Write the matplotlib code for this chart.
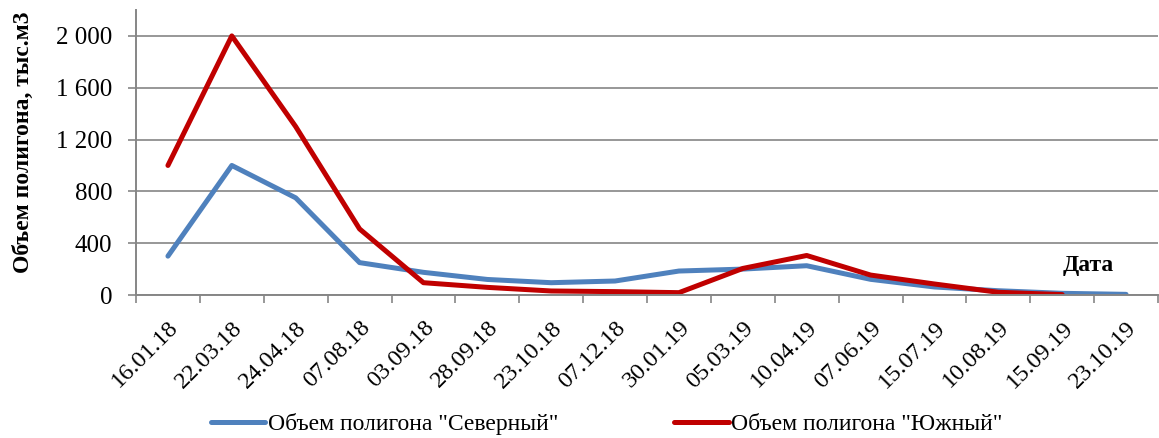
import matplotlib
matplotlib.use("Agg")
import matplotlib.pyplot as plt
from matplotlib.ticker import FuncFormatter, FixedLocator
import numpy as np

dates = ["16.01.18", "22.03.18", "24.04.18", "07.08.18", "03.09.18", "28.09.18",
         "23.10.18", "07.12.18", "30.01.19", "05.03.19", "10.04.19", "07.06.19",
         "15.07.19", "10.08.19", "15.09.19", "23.10.19"]
severny = [300, 1000, 750, 250, 175, 120, 95, 108, 185, 200, 226, 121, 62, 33, 13, 5]
yuzhny = [1000, 2000, 1300, 510, 95, 59, 31, 26, 18, 205, 305, 154, 85, 21, 3]

plt.rcParams["font.family"] = ["Liberation Serif", "DejaVu Serif"]

W, H = 1159, 438
fig = plt.figure(figsize=(W / 100, H / 100), dpi=100)
ax = fig.add_axes([136 / W, 1 - 295 / H, (1158 - 136) / W, 285 / H])

x_s = np.arange(len(severny))
x_y = np.arange(len(yuzhny))
ax.plot(x_s, severny, color="#4F81BD", lw=3.6, solid_capstyle="round",
        solid_joinstyle="round", label='Объем полигона "Северный"')
ax.plot(x_y, yuzhny, color="#C00000", lw=3.6, solid_capstyle="round",
        solid_joinstyle="round", label='Объем полигона "Южный"')

ax.set_xlim(-0.5, len(dates) - 0.5)
ax.set_ylim(0, 2200)

# y axis
ax.set_yticks(np.arange(0, 2001, 400))
ax.yaxis.set_major_formatter(FuncFormatter(lambda v, p: f"{int(v):,}".replace(",", " ")))
ax.tick_params(axis="y", labelsize=18, length=6, width=1.2, color="#868686", pad=11)
ax.grid(axis="y", color="#979797", lw=1.4)
ax.set_axisbelow(True)

# x axis: ticks on category boundaries, labels at centres
ax.xaxis.set_major_locator(FixedLocator(np.arange(-0.5, len(dates), 1.0)))
ax.xaxis.set_minor_locator(FixedLocator(np.arange(len(dates))))
ax.set_xticklabels([])
ax.set_xticklabels(dates, minor=True, rotation=45, ha="right", va="top",
                   rotation_mode="anchor", fontsize=17.5)
ax.tick_params(axis="x", which="major", length=6, width=1.2, color="#868686")
ax.tick_params(axis="x", which="minor", length=0, pad=16)

for side in ["top", "right"]:
    ax.spines[side].set_visible(False)
for side in ["left", "bottom"]:
    ax.spines[side].set_color("#868686")
    ax.spines[side].set_linewidth(1.4)

ax.set_ylabel("Объем полигона, тыс.м3", fontsize=17, fontweight="bold")
ax.yaxis.set_label_coords(-102 / 1022, 0.535)

ax.text(1088 / W, 1 - 265 / H, "Дата", transform=fig.transFigure, fontsize=17,
        fontweight="bold", ha="center", va="center")

fig.legend(loc="center", bbox_to_anchor=(607 / W, 1 - 424 / H), ncol=2,
           frameon=False, fontsize=17, handlelength=2.3, handletextpad=0.12,
           columnspacing=4.9, borderpad=0)

fig.savefig("out.png", dpi=100)
